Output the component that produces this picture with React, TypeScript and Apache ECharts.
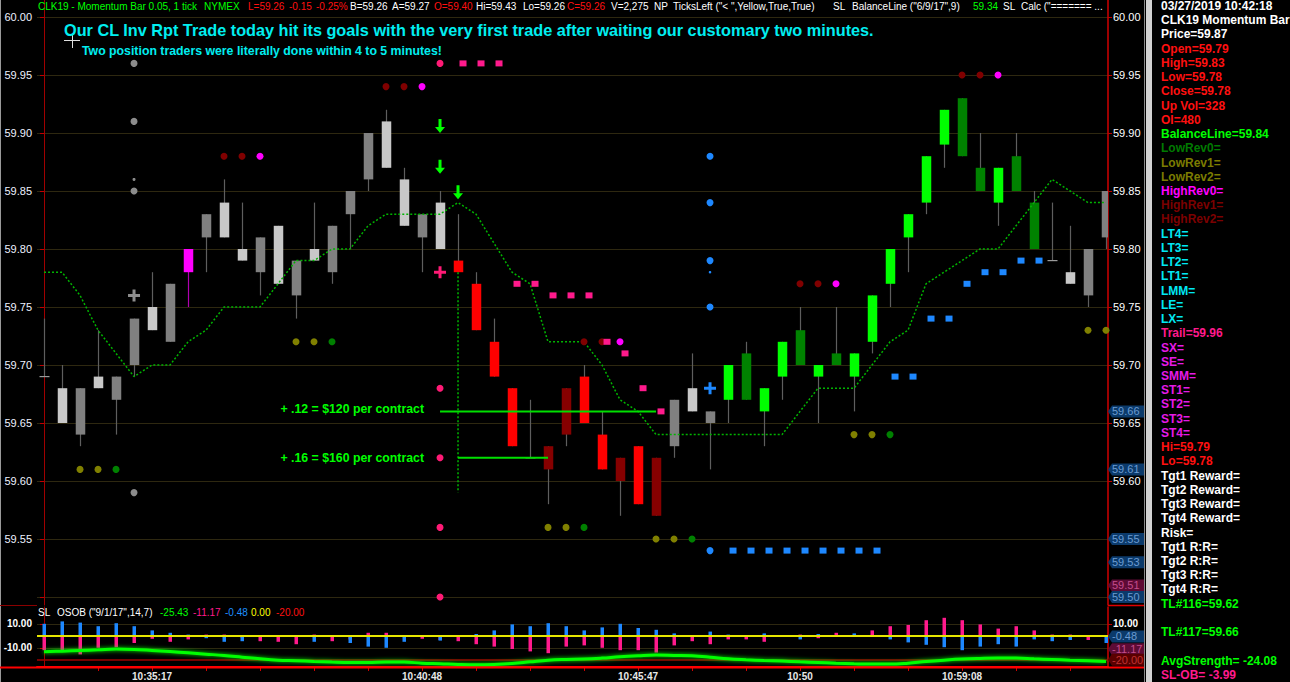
import React, { useEffect, useRef } from 'react';
import * as echarts from 'echarts';

// ---------------- DATA ----------------
const barOpen = [59.69, 59.65, 59.68, 59.68, 59.69, 59.74, 59.73, 59.77, 59.78, 59.83, 59.81, 59.79, 59.81, 59.77, 59.79, 59.79, 59.82, 59.85, 59.90, 59.87,
  59.82, 59.83, 59.80, 59.79, 59.77, 59.72, 59.68, 59.62, 59.61, 59.64, 59.69, 59.64, 59.60, 59.63, 59.57, 59.67, 59.66, 59.66, 59.67, 59.71,
  59.66, 59.69, 59.73, 59.69, 59.71, 59.69, 59.72, 59.77, 59.81, 59.84, 59.89, 59.93, 59.87, 59.84, 59.88, 59.84, 59.79, 59.77, 59.80, 59.85];
const barClose = [59.69, 59.68, 59.64, 59.69, 59.67, 59.70, 59.75, 59.72, 59.80, 59.81, 59.84, 59.80, 59.78, 59.82, 59.76, 59.80, 59.78, 59.83, 59.86, 59.91,
  59.86, 59.81, 59.84, 59.78, 59.73, 59.69, 59.63, 59.62, 59.63, 59.68, 59.65, 59.61, 59.62, 59.58, 59.62, 59.63, 59.68, 59.65, 59.70, 59.67,
  59.68, 59.72, 59.70, 59.70, 59.70, 59.71, 59.76, 59.80, 59.83, 59.88, 59.92, 59.88, 59.85, 59.87, 59.85, 59.80, 59.79, 59.78, 59.76, 59.81];
const barLow = [59.69, 59.65, 59.63, 59.68, 59.64, 59.69, 59.73, 59.72, 59.75, 59.78, 59.81, 59.79, 59.76, 59.77, 59.74, 59.79, 59.77, 59.80, 59.85, 59.87,
  59.82, 59.78, 59.80, 59.78, 59.73, 59.69, 59.63, 59.62, 59.58, 59.63, 59.65, 59.61, 59.57, 59.58, 59.57, 59.62, 59.66, 59.61, 59.65, 59.67,
  59.63, 59.67, 59.70, 59.65, 59.70, 59.66, 59.71, 59.75, 59.78, 59.83, 59.87, 59.88, 59.85, 59.82, 59.85, 59.80, 59.79, 59.77, 59.75, 59.80];
const barHigh = [59.74, 59.70, 59.68, 59.73, 59.69, 59.74, 59.78, 59.77, 59.80, 59.83, 59.86, 59.84, 59.81, 59.82, 59.79, 59.84, 59.82, 59.85, 59.90, 59.92,
  59.87, 59.83, 59.85, 59.83, 59.78, 59.74, 59.68, 59.67, 59.63, 59.68, 59.70, 59.66, 59.62, 59.63, 59.62, 59.67, 59.71, 59.66, 59.70, 59.72,
  59.68, 59.72, 59.75, 59.70, 59.75, 59.71, 59.76, 59.80, 59.83, 59.88, 59.92, 59.93, 59.90, 59.87, 59.90, 59.85, 59.84, 59.82, 59.80, 59.85];
// L light gray, D dark gray, M magenta, R red, r dark red, G green, g dark green
const barColorCode = ['D', 'L', 'D', 'L', 'D', 'D', 'L', 'D', 'M', 'D', 'L', 'L', 'D', 'L', 'D', 'L', 'D', 'D', 'D', 'L',
  'L', 'D', 'L', 'R', 'R', 'R', 'R', 'D', 'r', 'r', 'R', 'R', 'r', 'R', 'r', 'D', 'L', 'D', 'G', 'g',
  'G', 'G', 'g', 'G', 'g', 'G', 'G', 'G', 'G', 'G', 'G', 'g', 'g', 'G', 'g', 'g', 'D', 'L', 'D', 'D'];

const balanceLine = [59.78, 59.78, 59.76, 59.73, 59.71, 59.69, 59.70, 59.70, 59.72, 59.73, 59.75, 59.75, 59.75, 59.77, 59.79, 59.79, 59.80, 59.80, 59.82, 59.83,
  59.83, 59.83, 59.83, 59.84, 59.83, 59.805, 59.78, 59.77, 59.72, 59.72, 59.72, 59.70, 59.67, 59.66, 59.64, 59.64, 59.64, 59.64, 59.64, 59.64,
  59.64, 59.64, 59.66, 59.68, 59.68, 59.68, 59.70, 59.72, 59.73, 59.77, 59.78, 59.79, 59.80, 59.80, 59.82, 59.84, 59.86, 59.85, 59.84, 59.84];

const highRev1Dots = [[10, 59.88], [11, 59.88], [19, 59.94], [20, 59.94], [30, 59.72], [31, 59.72], [42, 59.77], [43, 59.77], [51, 59.95], [52, 59.95]];
const highRev0Dots = [[12, 59.88], [21, 59.94], [32, 59.72], [44, 59.77], [53, 59.95]];
const lowRev1Dots = [[2, 59.61], [3, 59.61], [14, 59.72], [15, 59.72], [28, 59.56], [29, 59.56], [34, 59.55], [35, 59.55], [45, 59.64], [46, 59.64], [58, 59.73], [59, 59.73]];
const lowRev0Dots = [[4, 59.61], [16, 59.72], [30, 59.56], [36, 59.55], [47, 59.64]];
const pinkDots = [[22, 59.96], [22, 59.68], [22, 59.62], [22, 59.56], [22, 59.50]];
const trailSquares = [[23, 59.96], [24, 59.96], [25, 59.96], [26, 59.77], [27, 59.77], [28, 59.76], [29, 59.76], [30, 59.76], [31, 59.72], [32, 59.71], [33, 59.68], [34, 59.66]];
const blueDots = [[37, 59.88], [37, 59.84], [37, 59.79], [37, 59.75], [37, 59.54]];
const blueSmallDots = [[37, 59.78]];
const blueSquares = [[38, 59.54], [39, 59.54], [40, 59.54], [41, 59.54], [42, 59.54], [43, 59.54], [44, 59.54], [45, 59.54], [46, 59.54],
  [47, 59.69], [48, 59.69], [49, 59.74], [50, 59.74], [51, 59.77], [52, 59.78], [53, 59.78], [54, 59.79], [55, 59.79]];
const grayDots = [[5, 59.96], [5, 59.91], [5, 59.85], [5, 59.59]];
const graySmallDots = [[5, 59.86]];
const grayPlus = [[5, 59.76]];
const pinkPlus = [[22, 59.78]];
const bluePlus = [[37, 59.68]];
const downArrows = [[22, 59.906], [22, 59.871], [23, 59.849]];
const entryDropLine = [[23, 59.78], [23, 59.59]];
const targetLine117 = [[22, 59.66], [34, 59.66]];
const targetLine116 = [[23, 59.62], [28, 59.62]];

const oscBlue = [10, 12, 11, 8, 10.5, 8, 4.5, 2.5, 1, -2, -5, -4.5, 0.5, 0, 0, -5, 0, -6, -9, -10,
  -5, 0, -4, 0, 1.5, 4.5, 9.5, 8, 10.5, 8, 4.5, 7, 10, 6.5, 5, 2, 0.5, 3.5, 1, 0.5,
  2, 0, -3, 1.5, -1, 2, -0.5, -3, -5.5, -7.5, -9.5, -12, -9, -7, -9, -3, -4.5, -3.5, 0, -6];
const oscPink = [-12, -12, -15.5, -10, -9.5, -6, -2.5, -5, -3, 1, 1, -1.5, -4.5, -5, -7, 1, -4.5, -3, 2.5, 2.5,
  -1, -2.5, -3.5, -4.5, -7, -9, -11, -13, -14.5, -9, -8, -10, -12, -12, -14, -8, -4.5, -7, -3, -3,
  -5, -1, 1, -2, 2.5, 0.5, 4.5, 8, 9, 13, 15, 13, 9.5, 6, 8, 4.5, 1, 1, -3.5, -1];
const oscAvg = [-13.3, -12.8, -12.2, -11.7, -11.1, -11.4, -12.2, -13.1, -14.2, -15.3, -16.4, -17.8, -19.2, -20.3, -20.8, -21.4, -21.9, -22.2, -22.2, -21.9,
  -21.9, -22.8, -23.3, -23.9, -24.2, -23.9, -23.1, -21.7, -20.3, -19.7, -19.4, -18.6, -17.5, -16.7, -16.1, -16.4, -16.7, -17.8, -19.2, -20,
  -20.6, -21.1, -21.7, -22.2, -22.8, -23.3, -23.6, -23.6, -22.8, -21.4, -20.3, -19.4, -18.9, -18.6, -18.6, -19.2, -19.7, -20.3, -20.8, -21.4];
const oscRefLevels = [0, -20];

const timeLabelBars = [6, 21, 33, 42, 51];
const timeLabels = ['10:35:17', '10:40:48', '10:45:47', '10:50', '10:59:08'];
const timeTickBars = [3, 6, 9, 12, 15, 18, 21, 24, 27, 30, 33, 36, 39, 42, 45, 48, 51, 54, 57];
const priceTicks = [60.0, 59.95, 59.9, 59.85, 59.8, 59.75, 59.7, 59.65, 59.6, 59.55, 59.5];
const priceLabelValues = [60.0, 59.95, 59.9, 59.85, 59.8, 59.75, 59.7, 59.65, 59.6, 59.55];
const oscTicks = [10, -10];
const oscRightLabels = [10];

const priceTagValues = [59.66, 59.61, 59.55, 59.53, 59.51, 59.5];
const priceTagKinds = ['b', 'b', 'b', 'b', 'm', 'b'];
const oscTagValues = [-0.48, -11.17, -20.0];
const oscTagKinds = ['b', 'm', 'r'];

const headerTokens: [string, string, number][] = [
  ['CLK19 - Momentum Bar 0.05, 1 tick', 'g', 38], ['NYMEX', 'g', 204],
  ['L=59.26', 'r', 248], ['-0.15', 'r', 289], ['-0.25%', 'r', 316],
  ['B=59.26', 'w', 350], ['A=59.27', 'w', 392], ['O=59.40', 'r', 434], ['Hi=59.43', 'w', 476], ['Lo=59.26', 'w', 523], ['C=59.26', 'r', 567],
  ['V=2,275', 'w', 611], ['NP', 'w', 654], ['TicksLeft ("< ",Yellow,True,True)', 'w', 673], ['SL', 'w', 833],
  ['BalanceLine ("6/9/17",9)', 'w', 852], ['59.34', 'g', 973], ['SL', 'w', 1003], ['Calc ("======= ...', 'w', 1021],
];
const oscLegendTokens: [string, string, number][] = [
  ['SL', 'w', 38], ['OSOB ("9/1/17",14,7)', 'w', 57], ['-25.43', 'g', 160], ['-11.17', 'p', 193], ['-0.48', 'b', 225], ['0.00', 'y', 251], ['-20.00', 'r', 276],
];
const dataWindowRows: [string, string][] = [
  ['03/27/2019 10:42:18', 'w'], ['CLK19 Momentum Bar', 'w'], ['Price=59.87', 'w'], ['Open=59.79', 'r'], ['High=59.83', 'r'],
  ['Low=59.78', 'r'], ['Close=59.78', 'r'], ['Up Vol=328', 'r'], ['OI=480', 'r'], ['BalanceLine=59.84', 'g'],
  ['LowRev0=', 'dg'], ['LowRev1=', 'ol'], ['LowRev2=', 'ol'], ['HighRev0=', 'mg'], ['HighRev1=', 'mr'], ['HighRev2=', 'mr'],
  ['LT4=', 'c'], ['LT3=', 'c'], ['LT2=', 'c'], ['LT1=', 'c'], ['LMM=', 'c'], ['LE=', 'c'], ['LX=', 'c'],
  ['Trail=59.96', 'p'], ['SX=', 'mg2'], ['SE=', 'mg2'], ['SMM=', 'mg2'], ['ST1=', 'mg2'], ['ST2=', 'mg2'], ['ST3=', 'mg2'], ['ST4=', 'mg2'],
  ['Hi=59.79', 'r'], ['Lo=59.78', 'r'], ['Tgt1 Reward=', 'w'], ['Tgt2 Reward=', 'w'], ['Tgt3 Reward=', 'w'], ['Tgt4 Reward=', 'w'],
  ['Risk=', 'w'], ['Tgt1 R:R=', 'w'], ['Tgt2 R:R=', 'w'], ['Tgt3 R:R=', 'w'], ['Tgt4 R:R=', 'w'],
  ['TL#116=59.62', 'g'], ['', 'w'], ['TL#117=59.66', 'g'], ['', 'w'], ['AvgStrength= -24.08', 'g'], ['SL-OB= -3.99', 'p'],
];
const titleLine1 = 'Our CL Inv Rpt Trade today hit its goals with the very first trade after waiting our customary two minutes.';
const titleLine2 = 'Two position traders were literally done within 4 to 5 minutes!';
const targetNote117 = '+ .12 = $120 per contract';
const targetNote116 = '+ .16 = $160 per contract';

// ---------------- STYLE ----------------
const FONT = 'Arial, "Liberation Sans", sans-serif';
const TEXT_COLORS: Record<string, string> = {
  w: '#ffffff', r: '#ff1010', g: '#00ff00', dg: '#007a00', ol: '#7c7c00', mg: '#ff00ff', mr: '#7c0000',
  c: '#00e8f4', p: '#ff1a8c', mg2: '#e61ae6', b: '#1e90ff', y: '#ffff00',
};
const BODY_COLORS: Record<string, string> = {
  L: '#c8c8c8', D: '#808080', M: '#ff00ff', R: '#ff0000', r: '#860000', G: '#00ff00', g: '#008200',
};
const TAG_STYLE: Record<string, { bg: string; fg: string }> = {
  b: { bg: '#0b3a6b', fg: '#6a9bd2' },
  m: { bg: '#5e0b35', fg: '#c44d8c' },
  r: { bg: '#5a0000', fg: '#c03030' },
};
const PLUS = 'path://M4.5,0H7.5V4.5H12V7.5H7.5V12H4.5V7.5H0V4.5H4.5Z';
const DOWN_ARROW = 'path://M3.5,0H6.5V8H10L5,14L0,8H3.5Z';

const XMIN = -0.39;
const XMAX = 59.11;
const PMAX = 60.014655;
const PMIN = 59.493103;

function scatter(data: number[][], symbol: string, size: any, color: string, extra: any = {}) {
  return {
    type: 'scatter', xAxisIndex: 0, yAxisIndex: 0, data, symbol, symbolSize: size,
    itemStyle: { color, opacity: 1 }, silent: true, z: 5, ...extra,
  };
}

function textEl(text: string, x: number, y: number, fill: string, font: string, align = 'left') {
  return { type: 'text', x, y, z: 100, silent: true, style: { text, fill, font, textAlign: align, textVerticalAlign: 'middle' } };
}

function buildOption() {
  const candleData = barOpen.map((o, i) => [i, o, barClose[i], barLow[i], barHigh[i]]);
  return {
    animation: false,
    backgroundColor: '#000000',
    grid: [
      { left: 37, right: 182, top: 0, height: 605 },
      { left: 37, right: 182, top: 607, height: 60 },
    ],
    xAxis: [
      { type: 'value', gridIndex: 0, min: XMIN, max: XMAX, show: false },
      {
        type: 'value', gridIndex: 1, min: XMIN, max: XMAX,
        axisLine: { show: true, onZero: false, lineStyle: { color: '#ff0000', width: 2 } },
        axisTick: { show: true, customValues: timeTickBars, length: 4, lineStyle: { color: '#d00000' } },
        axisLabel: {
          customValues: timeLabelBars, margin: 4, color: '#e8e8e8', fontWeight: 'bold', fontSize: 10, fontFamily: FONT,
          formatter: (v: number) => timeLabels[timeLabelBars.indexOf(Math.round(v))] ?? '',
        },
        splitLine: { show: false },
      },
    ],
    yAxis: [
      {
        type: 'value', gridIndex: 0, position: 'left', min: PMIN, max: PMAX,
        axisLine: { show: true, lineStyle: { color: '#a00000', width: 1 } },
        axisTick: { show: true, customValues: priceTicks, length: 4, lineStyle: { color: '#c00000' } },
        axisLabel: { customValues: priceLabelValues, formatter: (v: number) => v.toFixed(2), color: '#eef2ff', fontSize: 11, fontFamily: FONT, margin: 5 },
        splitLine: { show: true, lineStyle: { color: '#2e2810', width: 1 } },
      },
      {
        type: 'value', gridIndex: 0, position: 'right', min: PMIN, max: PMAX,
        axisLine: { show: true, lineStyle: { color: '#d00000', width: 1.5 } },
        axisTick: { show: true, customValues: priceTicks, length: 4, lineStyle: { color: '#c00000' } },
        axisLabel: { customValues: priceLabelValues, formatter: (v: number) => v.toFixed(2), color: '#ffffff', fontSize: 11, fontFamily: FONT, margin: 5 },
        splitLine: { show: false },
      },
      {
        type: 'value', gridIndex: 1, position: 'left', min: -26, max: 24,
        axisLine: { show: true, lineStyle: { color: '#a00000', width: 1 } },
        axisTick: { show: true, customValues: oscTicks, length: 4, lineStyle: { color: '#c00000' } },
        axisLabel: { customValues: oscTicks, formatter: (v: number) => v.toFixed(2), color: '#ffffff', fontSize: 10, fontWeight: 'bold', fontFamily: FONT, margin: 5 },
        splitLine: { show: true, lineStyle: { color: '#2e2810', width: 1 } },
      },
      {
        type: 'value', gridIndex: 1, position: 'right', min: -26, max: 24,
        axisLine: { show: true, lineStyle: { color: '#d00000', width: 1.5 } },
        axisTick: { show: true, customValues: oscTicks, length: 4, lineStyle: { color: '#c00000' } },
        axisLabel: { customValues: oscRightLabels, formatter: (v: number) => v.toFixed(2), color: '#ffffff', fontSize: 10, fontWeight: 'bold', fontFamily: FONT, margin: 5 },
        splitLine: { show: false },
      },
    ],
    series: [
      {
        type: 'custom', xAxisIndex: 0, yAxisIndex: 0, clip: true, silent: true,
        data: candleData,
        encode: { x: 0, y: [1, 2, 3, 4] },
        renderItem: (params: any, api: any) => {
          const i = api.value(0);
          const o = api.value(1), c = api.value(2), lo = api.value(3), hi = api.value(4);
          const code = barColorCode[params.dataIndex];
          const pHi = api.coord([i, hi]);
          const pLo = api.coord([i, lo]);
          const yO = api.coord([i, o])[1];
          const yC = api.coord([i, c])[1];
          const x = Math.round(pHi[0]) + 0.5;
          const top = Math.min(yO, yC);
          const bot = Math.max(yO, yC);
          const wick = code === 'M' ? '#b000b0' : '#5e5e5e';
          const children: any[] = [
            { type: 'line', shape: { x1: x, y1: pHi[1], x2: x, y2: pLo[1] }, style: { stroke: wick, lineWidth: 1.2 } },
          ];
          if (bot - top < 0.5) {
            children.push({ type: 'line', shape: { x1: x - 5, y1: top, x2: x + 5, y2: top }, style: { stroke: '#9a9a9a', lineWidth: 1.2 } });
          } else {
            children.push({ type: 'rect', shape: { x: x - 4.75, y: top, width: 9.5, height: bot - top }, style: { fill: BODY_COLORS[code] } });
          }
          return { type: 'group', children };
        },
      },
      {
        type: 'line', xAxisIndex: 0, yAxisIndex: 0, silent: true, symbol: 'none', z: 3,
        data: balanceLine.map((v, i) => [i, v]),
        lineStyle: { color: '#00b400', width: 1.5, type: [2, 2] },
      },
      {
        type: 'line', xAxisIndex: 0, yAxisIndex: 0, silent: true, symbol: 'none', z: 3,
        data: entryDropLine, lineStyle: { color: '#00b400', width: 1.5, type: [2, 2] },
      },
      {
        type: 'line', xAxisIndex: 0, yAxisIndex: 0, silent: true, symbol: 'none', z: 4,
        data: targetLine117, lineStyle: { color: '#00e000', width: 2 },
      },
      {
        type: 'line', xAxisIndex: 0, yAxisIndex: 0, silent: true, symbol: 'none', z: 4,
        data: targetLine116, lineStyle: { color: '#00e000', width: 2 },
      },
      scatter(highRev1Dots, 'circle', 7, '#800000'),
      scatter(highRev0Dots, 'circle', 7, '#ff00ff'),
      scatter(lowRev1Dots, 'circle', 7, '#808000'),
      scatter(lowRev0Dots, 'circle', 7, '#008000'),
      scatter(pinkDots, 'circle', 7, '#ff1a75'),
      scatter(trailSquares, 'rect', [7, 6], '#ff1a8c', { symbolOffset: [5, 0] }),
      scatter(blueDots, 'circle', 7, '#1e88ff'),
      scatter(blueSmallDots, 'circle', 2.5, '#1e88ff'),
      scatter(blueSquares, 'rect', [7, 6], '#1e88ff', { symbolOffset: [5, 0] }),
      scatter(grayDots, 'circle', 7, '#8c8c8c'),
      scatter(graySmallDots, 'circle', 3, '#8c8c8c'),
      scatter(grayPlus, PLUS, 12, '#8c8c8c'),
      scatter(pinkPlus, PLUS, 12, '#ff1a75'),
      scatter(bluePlus, PLUS, 12, '#1e88ff'),
      scatter(downArrows, DOWN_ARROW, [10, 14], '#00ff00'),
      {
        type: 'custom', xAxisIndex: 1, yAxisIndex: 2, clip: true, silent: true,
        data: oscPink.map((v, i) => [i, v]), encode: { x: 0, y: 1 },
        renderItem: (params: any, api: any) => {
          const p0 = api.coord([api.value(0), 0]);
          const p1 = api.coord([api.value(0), api.value(1)]);
          const x = Math.round(p0[0]);
          return { type: 'rect', shape: { x: x - 1.5, y: Math.min(p0[1], p1[1]), width: 3.5, height: Math.abs(p1[1] - p0[1]) }, style: { fill: '#ff1a8c' } };
        },
      },
      {
        type: 'custom', xAxisIndex: 1, yAxisIndex: 2, clip: true, silent: true,
        data: oscBlue.map((v, i) => [i, v]), encode: { x: 0, y: 1 },
        renderItem: (params: any, api: any) => {
          const p0 = api.coord([api.value(0), 0]);
          const p1 = api.coord([api.value(0), api.value(1)]);
          const x = Math.round(p0[0]);
          return { type: 'rect', shape: { x: x - 1.5, y: Math.min(p0[1], p1[1]), width: 3.5, height: Math.abs(p1[1] - p0[1]) }, style: { fill: '#1e88ff' } };
        },
      },
      {
        type: 'line', xAxisIndex: 1, yAxisIndex: 2, silent: true, symbol: 'none', smooth: 0.4, z: 6,
        data: oscAvg.map((v, i) => [i, v]),
        lineStyle: { color: '#00ff00', width: 3, shadowBlur: 4, shadowColor: '#00ff00' },
        markLine: {
          silent: true, symbol: 'none', label: { show: false }, animation: false,
          data: [
            { yAxis: oscRefLevels[0], lineStyle: { color: '#e6e600', width: 2, type: 'solid' } },
            { yAxis: oscRefLevels[1], lineStyle: { color: '#a00000', width: 1.5, type: 'solid' } },
          ],
        },
      },
    ],
  };
}

function tagEl(y: number, label: string, kind: string) {
  const s = TAG_STYLE[kind];
  return {
    type: 'group', z: 110, silent: true,
    children: [
      { type: 'polygon', z: 110, shape: { points: [[1108, y], [1112, y - 6], [1144, y - 6], [1144, y + 6], [1112, y + 6]] }, style: { fill: s.bg } },
      { type: 'text', z: 111, x: 1112, y, style: { text: label, fill: s.fg, font: `11px ${FONT}`, textVerticalAlign: 'middle' } },
    ],
  };
}

export default function App() {
  const ref = useRef<HTMLDivElement>(null);
  useEffect(() => {
    document.body.style.margin = '0';
    document.body.style.background = '#000';
    const chart = echarts.init(ref.current!, null, { renderer: 'svg' });
    chart.setOption(buildOption() as any);

    const g: any[] = [];
    // frame pieces
    g.push({ type: 'rect', z: 90, silent: true, shape: { x: 0, y: 0, width: 1, height: 682 }, style: { fill: '#9a9a9a' } });
    g.push({ type: 'line', z: 90, silent: true, shape: { x1: 0, y1: 605.5, x2: 37, y2: 605.5 }, style: { stroke: '#8b0000', lineWidth: 1 } });
    g.push({ type: 'line', z: 90, silent: true, shape: { x1: 1108, y1: 605.5, x2: 1144, y2: 605.5 }, style: { stroke: '#e00000', lineWidth: 1.5 } });
    g.push({ type: 'line', z: 90, silent: true, shape: { x1: 0, y1: 667.5, x2: 1144, y2: 667.5 }, style: { stroke: '#ff0000', lineWidth: 2 } });
    g.push({ type: 'rect', z: 90, silent: true, shape: { x: 1144, y: 0, width: 1, height: 682 }, style: { fill: '#8a8a8a' } });
    g.push({ type: 'rect', z: 90, silent: true, shape: { x: 1146, y: 0, width: 6, height: 682 }, style: { fill: '#d2d2d2' } });
    // cursor cross
    g.push({ type: 'line', z: 95, silent: true, shape: { x1: 64, y1: 40.5, x2: 80, y2: 40.5 }, style: { stroke: '#e0e0e0', lineWidth: 1 } });
    g.push({ type: 'line', z: 95, silent: true, shape: { x1: 72.5, y1: 34, x2: 72.5, y2: 48 }, style: { stroke: '#e0e0e0', lineWidth: 1 } });

    // header
    headerTokens.forEach(([t, c, x]) => g.push(textEl(t, x, 6, TEXT_COLORS[c], `10px ${FONT}`)));
    // titles
    g.push(textEl(titleLine1, 64, 30, '#00eef0', `bold 16.25px ${FONT}`));
    g.push(textEl(titleLine2, 82, 51, '#00eef0', `bold 12.3px ${FONT}`));
    // target notes, aligned with the target lines
    const y117 = chart.convertToPixel({ yAxisIndex: 0 }, targetLine117[0][1]) as number;
    const y116 = chart.convertToPixel({ yAxisIndex: 0 }, targetLine116[0][1]) as number;
    g.push(textEl(targetNote117, 424, y117 - 2, '#00ff00', `bold 12.3px ${FONT}`, 'right'));
    g.push(textEl(targetNote116, 424, y116, '#00ff00', `bold 12.3px ${FONT}`, 'right'));
    // oscillator legend
    oscLegendTokens.forEach(([t, c, x]) => g.push(textEl(t, x, 612, TEXT_COLORS[c], `10px ${FONT}`)));
    // price tags
    priceTagValues.forEach((v, k) => {
      const y = chart.convertToPixel({ yAxisIndex: 1 }, v) as number;
      g.push(tagEl(y, v.toFixed(2), priceTagKinds[k]));
    });
    oscTagValues.forEach((v, k) => {
      const y = chart.convertToPixel({ yAxisIndex: 3 }, v) as number;
      g.push(tagEl(y, v.toFixed(2), oscTagKinds[k]));
    });
    // data window
    dataWindowRows.forEach(([t, c], k) => {
      if (t) g.push(textEl(t, 1161, 6 + k * 14.23, TEXT_COLORS[c], `bold 12px ${FONT}`));
    });

    chart.setOption({ graphic: g } as any);
    return () => chart.dispose();
  }, []);
  return <div ref={ref} style={{ position: 'fixed', left: 0, top: 0, width: 1290, height: 682, background: '#000' }} />;
}
